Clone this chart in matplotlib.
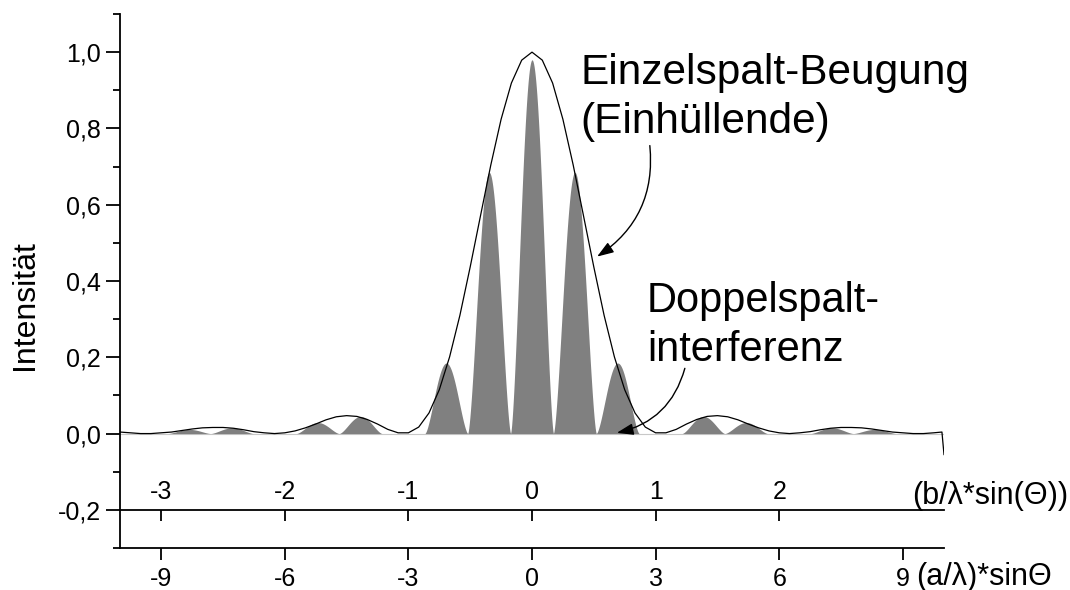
import numpy as np
import matplotlib
matplotlib.use("Agg")
import matplotlib.pyplot as plt
from matplotlib.ticker import MultipleLocator

plt.rcParams['font.family'] = ['Liberation Sans', 'DejaVu Sans']

# envelope (single slit), every 0.25 on the a-axis, 0 .. 10 (symmetric)
env_right = [1.0, 0.979, 0.919, 0.824, 0.704, 0.571, 0.437, 0.310, 0.201, 0.115,
             0.054, 0.017, 0.002, 0.002, 0.011, 0.025, 0.037, 0.045, 0.047, 0.044,
             0.036, 0.025, 0.015, 0.007, 0.002, 0.0, 0.002, 0.005, 0.010, 0.014,
             0.016, 0.016, 0.015, 0.012, 0.008, 0.004, 0.002, 0.0, 0.0, 0.002, 0.004]
env_x = list(np.arange(-10, 9.76, 0.25)) + [9.95, 10.0]
env_y = env_right[::-1][:-1] + env_right[:-1] + [0.004, -0.055]

# double slit fringes: centre and peak height
fringe_pos = [-8.32, -7.28, -5.20, -4.16, -2.08, -1.04, 0.0, 1.04, 2.08, 4.16, 5.20, 7.28, 8.32]
fringe_h = [0.011, 0.015, 0.029, 0.045, 0.185, 0.685, 0.98, 0.685, 0.185, 0.045, 0.029, 0.015, 0.011]
fringe_period = 1.04

y_ticks = [-0.2, 0.0, 0.2, 0.4, 0.6, 0.8, 1.0]
a_ticks = [-9, -6, -3, 0, 3, 6, 9]
b_ticks = [-3, -2, -1, 0, 1, 2]

fig = plt.figure(figsize=(10.7, 5.9), dpi=100)
ax = fig.add_axes([120 / 1070, 1 - 548 / 590, 824 / 1070, 534 / 590])

ax.plot([-10, 10], [0, 0], color='#c8c8c8', lw=0.8, zorder=1)
prof = np.linspace(-0.5, 0.5, 81)
for c, h in zip(fringe_pos, fringe_h):
    xs = c + prof * fringe_period
    ax.fill_between(xs, 0, h * np.abs(np.cos(np.pi * prof)) ** 1.5, color='#808080', lw=0, zorder=2)
ax.plot(env_x, env_y, color='black', lw=0.9, zorder=3)

ax.set_xlim(-10, 10)
ax.set_ylim(-0.3, 1.1)
for s in ['top', 'right']:
    ax.spines[s].set_visible(False)
for s in ['left', 'bottom']:
    ax.spines[s].set_linewidth(1.3)

ax.set_yticks(y_ticks)
ax.set_yticklabels([f"{v:.1f}".replace('.', ',') for v in y_ticks])
ax.yaxis.set_minor_locator(MultipleLocator(0.1))
ax.set_xticks(a_ticks)
ax.set_xticklabels([str(v) for v in a_ticks])
ax.tick_params(axis='y', which='major', direction='out', length=10, width=1.3, labelsize=18, pad=4)
ax.tick_params(axis='y', which='minor', direction='out', length=5, width=1.3)
ax.tick_params(axis='x', direction='out', length=8.5, width=1.3, labelsize=18, pad=5)

# b-axis at y = -0.2
sec = ax.secondary_xaxis((-0.2 + 0.3) / 1.4, functions=(lambda a: a / 3, lambda b: b * 3))
sec.set_xticks(b_ticks)
sec.set_xticklabels([str(v) for v in b_ticks])
sec.spines['bottom'].set_linewidth(1.3)
sec.tick_params(axis='x', direction='out', length=8, width=1.3, labelsize=18,
                labelbottom=False, labeltop=True, pad=-4)

fig.text(25 / 1070, 1 - 305 / 590, 'Intensität', rotation=90, ha='center', va='center', fontsize=23)
fig.text(912 / 1070, 1 - 496 / 590, '(b/λ*sin(Θ))', ha='left', va='center', fontsize=22)
fig.text(916 / 1070, 1 - 577 / 590, '(a/λ)*sinΘ', ha='left', va='center', fontsize=22)

fig.text(580 / 1070, 1 - 53 / 590, 'Einzelspalt-Beugung\n(Einhüllende)', ha='left', va='top',
         fontsize=30.5, linespacing=1.3)
fig.text(647 / 1070, 1 - 281 / 590, 'Doppelspalt-\ninterferenz', ha='left', va='top',
         fontsize=30, linespacing=1.28)

arrow = dict(arrowstyle='-|>,head_length=1.0,head_width=0.35', color='black', lw=1.0,
             shrinkA=0, shrinkB=0)
ax.annotate('', xy=(1.58, 0.464), xytext=(2.86, 0.755),
            arrowprops=dict(connectionstyle='arc3,rad=-0.3', **arrow))
ax.annotate('', xy=(2.06, 0.002), xytext=(3.71, 0.171),
            arrowprops=dict(connectionstyle='arc3,rad=-0.3', **arrow))

fig.savefig('out.png', dpi=100)
